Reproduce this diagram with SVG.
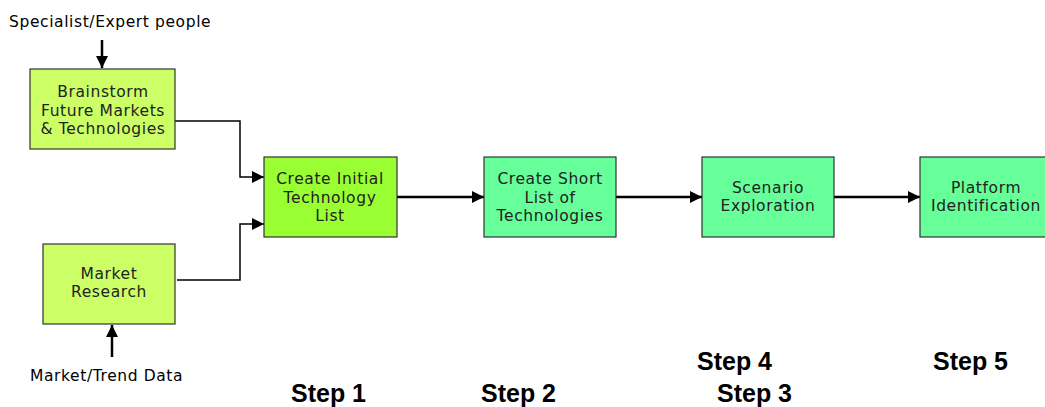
<svg xmlns="http://www.w3.org/2000/svg" width="1045" height="407" viewBox="0 0 1045 407">
<style>
.box{stroke:#333;stroke-width:1.2}
.t{font-family:"DejaVu Sans",Verdana,sans-serif;font-size:15.5px;letter-spacing:0.6px;fill:#222;text-anchor:middle}
.lbl{font-family:"DejaVu Sans",Verdana,sans-serif;font-size:15.5px;letter-spacing:0.6px;fill:#000}
.step{font-family:"Liberation Sans",Arial,sans-serif;font-size:25px;font-weight:bold;fill:#000}
.c{fill:none;stroke:#000;stroke-width:1.5}
.ct{fill:none;stroke:#000;stroke-width:2.5}
</style>
<defs>
<marker id="ah" viewBox="0 0 10 10" refX="10" refY="5" markerWidth="14" markerHeight="12" markerUnits="userSpaceOnUse" orient="auto">
<path d="M0,0 L10,5 L0,10 z" fill="#000"/>
</marker>
</defs>
<rect width="1045" height="407" fill="#fff"/>
<g id="connectors">
<line class="ct" x1="102" y1="40" x2="102" y2="68" marker-end="url(#ah)"/>
<line class="ct" x1="112" y1="357" x2="112" y2="325" marker-end="url(#ah)"/>
<polyline class="c" points="175,121 240,121 240,177 264,177" marker-end="url(#ah)"/>
<polyline class="c" points="177,280 240,280 240,224 264,224" marker-end="url(#ah)"/>
<line class="ct" x1="397" y1="197" x2="484" y2="197" marker-end="url(#ah)"/>
<line class="ct" x1="616" y1="197" x2="702" y2="197" marker-end="url(#ah)"/>
<line class="ct" x1="834" y1="197" x2="920" y2="197" marker-end="url(#ah)"/>
</g>
<g id="specialist"><text class="lbl" x="9" y="27">Specialist/Expert people</text></g>
<g id="trend"><text class="lbl" x="30" y="381">Market/Trend Data</text></g>
<g id="brainstorm">
<rect class="box" x="30" y="69" width="145" height="80" fill="#ccff66"/>
<text class="t" x="103" y="97">Brainstorm</text>
<text class="t" x="103" y="116">Future Markets</text>
<text class="t" x="103" y="134">&amp; Technologies</text>
</g>
<g id="market">
<rect class="box" x="43" y="244" width="132" height="80" fill="#ccff66"/>
<text class="t" x="109" y="279">Market</text>
<text class="t" x="109" y="297">Research</text>
</g>
<g id="initial">
<rect class="box" x="264" y="157" width="133" height="80" fill="#99ff33"/>
<text class="t" x="330" y="184">Create Initial</text>
<text class="t" x="330" y="202.5">Technology</text>
<text class="t" x="330" y="221">List</text>
</g>
<g id="short">
<rect class="box" x="484" y="157" width="132" height="80" fill="#66ff99"/>
<text class="t" x="550" y="184">Create Short</text>
<text class="t" x="550" y="202.5">List of</text>
<text class="t" x="550" y="221">Technologies</text>
</g>
<g id="scenario">
<rect class="box" x="702" y="157" width="132" height="80" fill="#66ff99"/>
<text class="t" x="768" y="193">Scenario</text>
<text class="t" x="768" y="211">Exploration</text>
</g>
<g id="platform">
<rect class="box" x="920" y="157" width="132" height="80" fill="#66ff99"/>
<text class="t" x="986" y="193">Platform</text>
<text class="t" x="986" y="211">Identification</text>
</g>
<g id="steps">
<text class="step" x="291" y="402">Step 1</text>
<text class="step" x="481" y="402">Step 2</text>
<text class="step" x="717" y="402">Step 3</text>
<text class="step" x="697" y="370">Step 4</text>
<text class="step" x="933" y="370">Step 5</text>
</g>
</svg>
